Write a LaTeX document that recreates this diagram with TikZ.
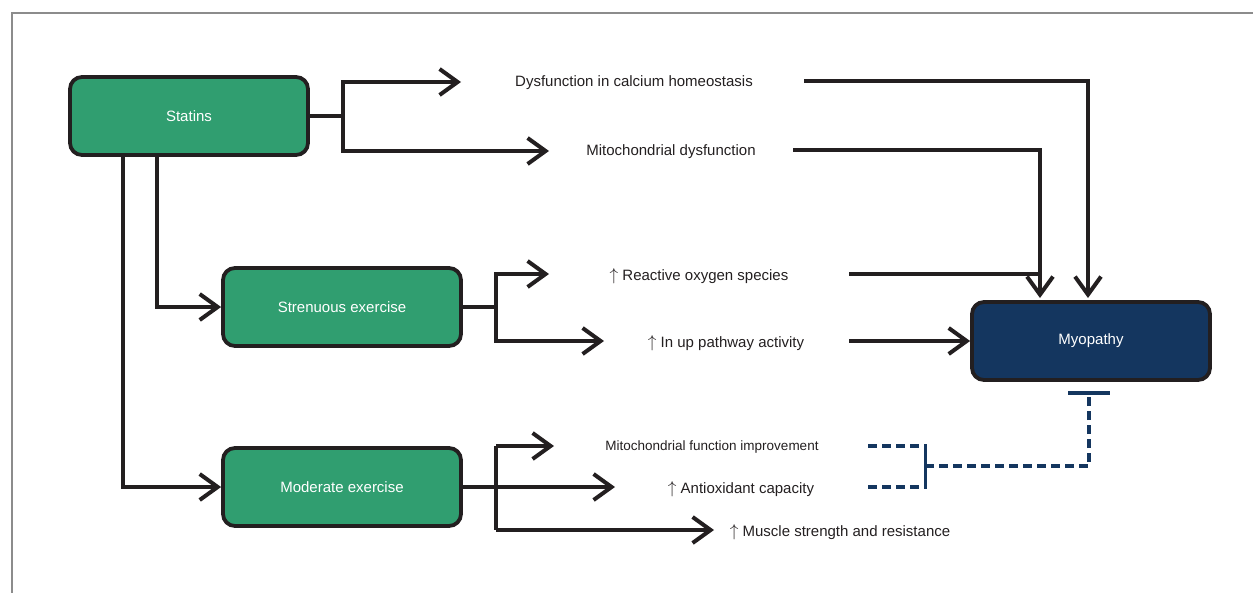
\documentclass[tikz,border=0pt]{standalone}
\usepackage{fontspec}
\setmainfont{Liberation Sans}
\usetikzlibrary{arrows.meta}
\definecolor{boxgreen}{HTML}{309E70}
\definecolor{navy}{HTML}{14365F}
\definecolor{linek}{HTML}{231F20}
\definecolor{framegray}{HTML}{8C8C8C}
\newcommand{\upar}{{\fontsize{18}{18}\selectfont$\uparrow$}}
\begin{document}
\begin{tikzpicture}[x=1pt,y=-1pt,
  box/.style={draw=linek, line width=3.8pt, rounded corners=12pt, minimum width=238pt, minimum height=78pt, text=white, font=\fontsize{15}{18}\selectfont, inner sep=0pt},
  boxtext/.style={yshift=-1.5pt},
  lbl/.style={font=\fontsize{15}{18}\selectfont, text=linek, inner sep=0pt, anchor=center, yshift=-2pt},
  slbl/.style={font=\fontsize{13.5}{16}\selectfont, text=linek, inner sep=0pt, anchor=center, yshift=-1.5pt},
  conn/.style={draw=linek, line width=3.5pt, line join=miter},
  arr/.style={conn, -{Straight Barb[length=18pt,width=26pt,line width=4pt]}},
  dsh/.style={draw=navy, line width=3.5pt, dash pattern=on 9pt off 5pt},
]
\useasboundingbox (0,0) rectangle (1253,592);
\begin{scope}
  \clip (0,0) rectangle (1253,592);
  \draw[framegray, line width=1.3pt] (12,13) rectangle (1300,650);
\end{scope}

% boxes
\node[box, fill=boxgreen] (statins) at (189,116) {\raisebox{-1.5pt}{Statins}};
\node[box, fill=boxgreen] (stren) at (342,307) {\raisebox{-1pt}{Strenuous exercise}};
\node[box, fill=boxgreen] (moder) at (342,487) {\raisebox{-1pt}{Moderate exercise}};
\node[box, fill=navy] (myo) at (1091,341) {\raisebox{-2pt}{Myopathy}};

% labels
\node[lbl] (dys) at (634,81) {Dysfunction in calcium homeostasis};
\node[lbl] (mito) at (671,150) {Mitochondrial dysfunction};
\node[lbl] (ros) at (699,274) {\upar\ Reactive oxygen species};
\node[lbl] (inup) at (726,341) {\upar\ In up pathway activity};
\node[slbl] (mfi) at (712,446) {Mitochondrial function improvement};
\node[lbl] (anti) at (741,487) {\upar\ Antioxidant capacity};
\node[lbl] (musc) at (840,530) {\upar\ Muscle strength and resistance};

% coordinates
\coordinate (sj) at (343,116);
\coordinate (dysIn) at (461,82);
\coordinate (mitoIn) at (549,151);
\coordinate (dysOut) at (804,81);
\coordinate (mitoOut) at (793,150);
\coordinate (myoA) at (1088,298);
\coordinate (myoB) at (1040,298);
\coordinate (rosOut) at (849,274);
\coordinate (inupOut) at (849,341);
\coordinate (s1) at (157,157);
\coordinate (s2) at (123,157);
\coordinate (ej) at (496,307);
\coordinate (rosIn) at (549,274);
\coordinate (inupIn) at (604,341);
\coordinate (mj) at (496,487);
\coordinate (mfiIn) at (554,446);
\coordinate (antiIn) at (615,487);
\coordinate (muscIn) at (714,530);
\coordinate (d1) at (868,446);
\coordinate (d2) at (868,487);
\coordinate (br) at (925,466);
\coordinate (tb) at (1089,393);

% statins outputs
\draw[arr] (statins.east) -- (sj) |- (dysIn);
\draw[arr] (sj) |- (mitoIn);
\draw[arr] (s1) |- (stren.west);
\draw[arr] (s2) |- (moder.west);

% to myopathy
\draw[arr] (dysOut) -| (myoA);
\draw[arr] (mitoOut) -| (myoB);
\draw[conn] (rosOut) -- (1040,274);
\draw[arr] (inupOut) -- (myo.west);

% strenuous outputs
\draw[arr] (stren.east) -- (ej) |- (rosIn);
\draw[arr] (ej) |- (inupIn);

% moderate outputs
\draw[arr] (moder.east) -- (antiIn);
\draw[arr] (mj |- mfiIn) |- (mfiIn);
\draw[conn] (mj |- mfiIn) -- (mj |- muscIn);
\draw[arr] (mj |- muscIn) -- (muscIn);

% inhibition
\draw[dsh] (d1) -- (922,446);
\draw[dsh] (d2) -- (922,487);
\draw[navy, line width=3pt] (925,444) -- (925,489);
\draw[dsh] (br) -| (tb);
\draw[navy, line width=4pt] (1068,393) -- (1110,393);
\end{tikzpicture}
\end{document}
